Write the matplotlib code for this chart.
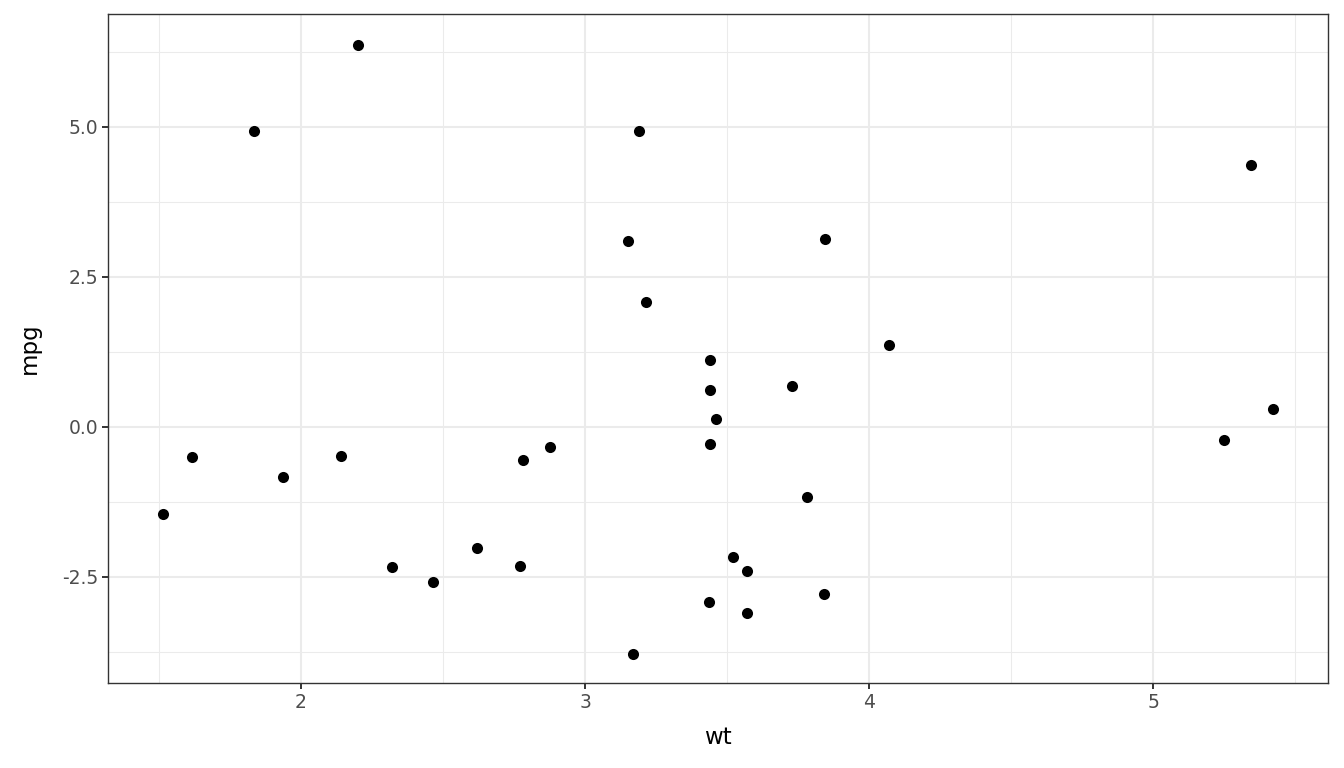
import matplotlib
matplotlib.use("Agg")
import matplotlib.pyplot as plt

plt.rcParams['font.family'] = ['DejaVu Sans']
plt.rcParams['axes.unicode_minus'] = False

wt = [1.513, 1.615, 1.835, 1.935, 2.14, 2.2, 2.32, 2.465, 2.62, 2.77, 2.78, 2.875,
      3.15, 3.17, 3.19, 3.215, 3.44, 3.44, 3.44, 3.435, 3.46, 3.52, 3.57, 3.57,
      3.73, 3.78, 3.845, 3.84, 4.07, 5.25, 5.345, 5.424]
resid = [-1.45, -0.50, 4.93, -0.84, -0.49, 6.37, -2.33, -2.58, -2.02, -2.32, -0.55, -0.34,
         3.10, -3.78, 4.93, 2.08, 1.11, 0.62, -0.28, -2.91, 0.13, -2.17, -2.40, -3.10,
         0.69, -1.17, 3.14, -2.78, 1.37, -0.22, 4.36, 0.30]

xticks = [2, 3, 4, 5]
xticklabels = ["2", "3", "4", "5"]
yticks = [-2.5, 0.0, 2.5, 5.0]
yticklabels = ["-2.5", "0.0", "2.5", "5.0"]

fig = plt.figure(figsize=(13.44, 7.68), dpi=100)
ax = fig.add_axes([108/1344, 1 - 683/768, (1328-108)/1344, (683-14)/768])

ax.set_xlim(1.3205, 5.616)
ax.set_ylim(-4.267, 6.883)

ax.set_xticks(xticks)
ax.set_xticklabels(xticklabels)
ax.set_yticks(yticks)
ax.set_yticklabels(yticklabels)
ax.set_xticks([1.5, 2.5, 3.5, 4.5, 5.5], minor=True)
ax.set_yticks([-3.75, -1.25, 1.25, 3.75, 6.25], minor=True)

ax.grid(which='major', color='#ebebeb', linewidth=1.5)
ax.grid(which='minor', color='#ebebeb', linewidth=0.75)
ax.set_axisbelow(True)

ax.scatter(wt, resid, s=64, color='black', zorder=3, linewidths=0)

for sp in ax.spines.values():
    sp.set_color('#333333')
    sp.set_linewidth(1.0)

ax.tick_params(which='major', length=4, width=1.4, color='#333333',
               labelsize=13.5, labelcolor='#4d4d4d', pad=3)
ax.tick_params(which='minor', length=0)

ax.set_xlabel('wt', fontsize=16.5, color='black', labelpad=10)
ax.set_ylabel('mpg', fontsize=16.5, color='black', labelpad=15)

fig.savefig('out.png', dpi=100)
